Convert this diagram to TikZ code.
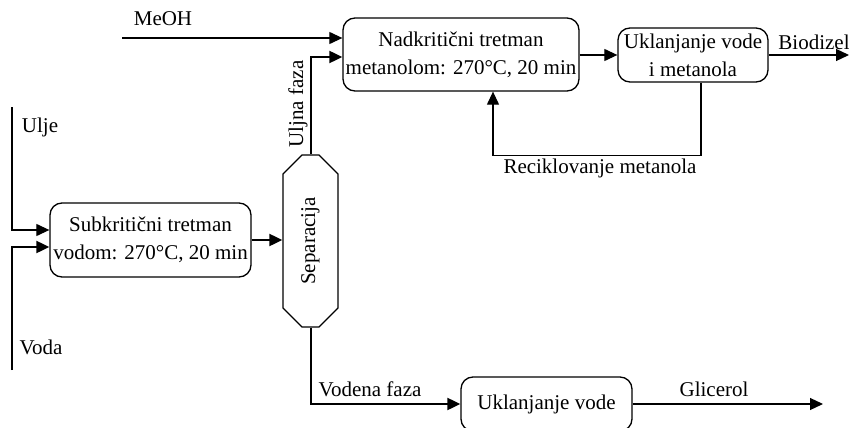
\documentclass[tikz,border=0pt]{standalone}
\usepackage{fontspec}
\setmainfont{Liberation Serif}
\usetikzlibrary{arrows.meta,shapes.misc,positioning}
\tikzset{
    proc/.style={draw, line width=1.3pt, rounded corners=12pt, align=center, inner sep=0pt},
    sepbox/.style={draw, line width=1.3pt, chamfered rectangle, chamfered rectangle xsep=16pt,
        minimum width=55pt, minimum height=172pt, inner sep=0pt},
    flow/.style={line width=1.2pt, -{Triangle[length=13pt,width=12pt]}},
    bigflow/.style={flow, line width=2pt},
    lbl/.style={inner sep=0pt}
}
\begin{document}
\begin{tikzpicture}[x=1pt, y=-1pt, font=\fontsize{21}{28}\selectfont]
            \useasboundingbox (0,0) rectangle (849,428);
            \begin{scope}
                \clip (0,0) rectangle (849,428);

                \node[proc, minimum width=201pt, minimum height=74pt] (sub) at (150.5,240)
                    {Subkritični tretman\\vodom: 270°C, 20 min};
                \node[sepbox] (sep) at (310.5,241) {\rotatebox{90}{Separacija}};
                \node[proc, minimum width=236pt, minimum height=73pt] (nad) at (461,54.5)
                    {Nadkritični tretman\\metanolom: 270°C, 20 min};
                \node[proc, minimum width=150pt, minimum height=54pt] (ukl) at (693,55)
                    {Uklanjanje vode\\i metanola};
                \node[proc, minimum width=171pt, minimum height=54pt] (uklv) at (546.5,404)
                    {Uklanjanje vode};

                \coordinate (ulje) at (12,107);
                \coordinate (voda) at (12,370);
                \coordinate (meoh) at (122,38);
                \coordinate (biodizel) at (849,55);
                \coordinate (glicerol) at (823,404);

                \node[lbl] (uljeL) at (40,127) {Ulje};
                \node[lbl] (vodaL) at (41,347) {Voda};
                \node[lbl] (meohL) at (163,19) {MeOH};
                \node[lbl] (uljnaL) at (298,104) {\rotatebox{90}{Uljna faza}};
                \node[lbl] (vodenaL) at (370,389) {Vodena faza};
                \node[lbl] (biodizelL) at (814,42) {Biodizel};
                \node[lbl] (glicerolL) at (714,389) {Glicerol};
                \node[lbl] (recL) at (600,168) {Reciklovanje metanola};

                \draw[flow] (ulje) |- ([yshift=10pt]sub.west);
                \draw[bigflow] (voda) |- ([yshift=-7pt]sub.west);
                \draw[bigflow] (sub.east) -- (sub.east -| sep.west);
                \draw[bigflow] (sep.north) |- ([yshift=-2.5pt]nad.west);
                \draw[flow] (meoh) -- (meoh -| nad.west);
                \draw[flow] (nad.east |- ukl.west) -- (ukl.west);
                \draw[flow] (ukl.east) -- (biodizel);
                \draw[flow] ([xshift=8pt]ukl.south) -- ++(0,73) -| ([xshift=32pt]nad.south);
                \draw[bigflow] (sep.south) |- (uklv.west);
                \draw[flow] (uklv.east) -- (glicerol);
            \end{scope}
        \end{tikzpicture}
\end{document}
